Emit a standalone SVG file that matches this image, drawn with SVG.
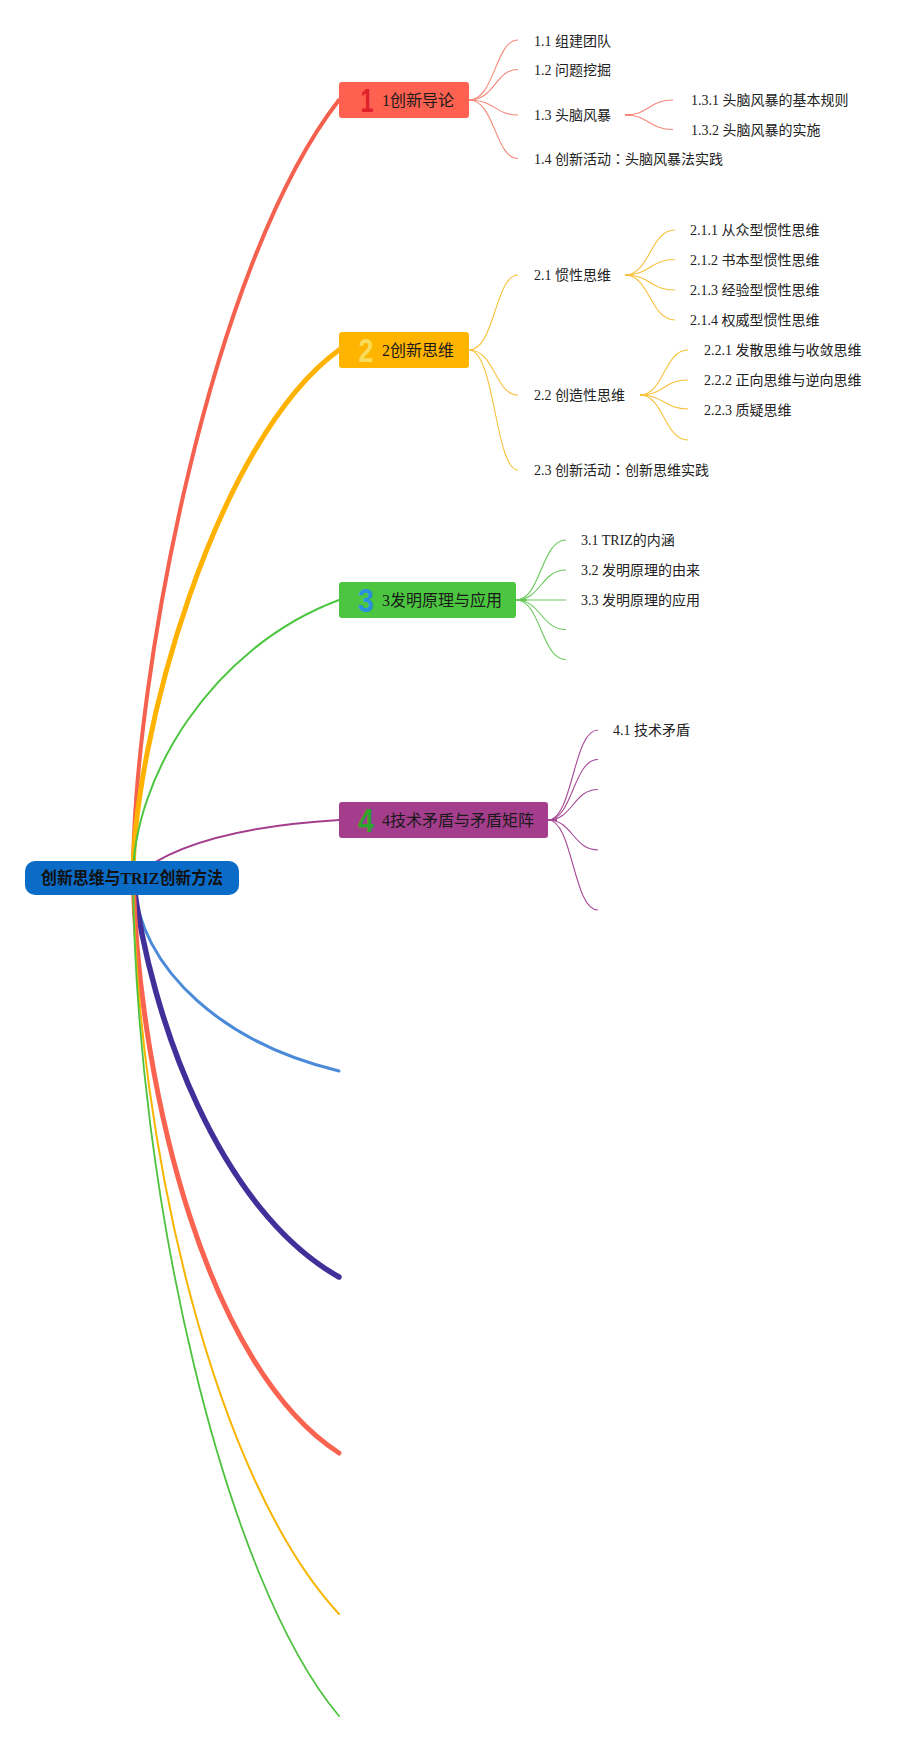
<svg xmlns="http://www.w3.org/2000/svg" width="922" height="1738" viewBox="0 0 922 1738">
<style>
.bg{fill:#ffffff}
.main{fill:none;stroke-linecap:round}
.sub{fill:none;stroke-width:1.1}
.s1{stroke:#f58878}.s2{stroke:#f8c13e}.s3{stroke:#68c95a}.s4{stroke:#a64a96}
.t{font-family:"Liberation Serif","Noto Sans CJK SC",serif;font-size:14px;fill:#222}
.cn{font-family:"Noto Sans CJK TC",sans-serif}
.bt{font-family:"Liberation Serif","Noto Sans CJK SC",serif;font-size:16px;fill:#1a1a1a}
.ic{font-family:"Liberation Sans","DejaVu Sans",sans-serif;font-weight:bold;font-size:33px;text-anchor:middle}
.root{font-family:"Liberation Serif","Noto Sans CJK SC",serif;font-weight:bold;font-size:16.5px;fill:#111;text-anchor:middle}
</style>
<rect class="bg" x="0" y="0" width="922" height="1738"/>
<g id="connectors">
  <path class="main" stroke="#f4614f" stroke-width="4" d="M133,878 C133,680 210,265 339,100"/>
  <path class="main" stroke="#ffb300" stroke-width="5" d="M133,878 C133,740 215,440 339,350"/>
  <path class="main" stroke="#4cc640" stroke-width="2" d="M133,878 C133,780 210,648 339,600"/>
  <path class="main" stroke="#a33d8c" stroke-width="2" d="M133,878 C170,845 240,826 339,820"/>
  <path class="main" stroke="#4a8ad8" stroke-width="3" d="M133,878 C140,975 230,1045 339,1071"/>
  <path class="main" stroke="#40309a" stroke-width="5.5" d="M133,878 C150,1020 220,1210 339,1277"/>
  <path class="main" stroke="#fa6350" stroke-width="5" d="M133,878 C140,1100 210,1370 339,1453"/>
  <path class="main" stroke="#f7b500" stroke-width="2" d="M133,878 C137,1150 215,1480 339,1614"/>
  <path class="main" stroke="#4ec23f" stroke-width="1.8" d="M133,878 C136,1200 225,1580 339,1716"/>

  <g class="sub s1">
    <path d="M469,100 C495,100 495,40 518,40"/>
    <path d="M469,100 C495,100 495,69.5 518,69.5"/>
    <path d="M469,100 C495,100 495,115 518,115"/>
    <path d="M469,100 C495,100 495,158.5 518,158.5"/>
    <path d="M625,115 C649,115 649,100 673,100"/>
    <path d="M625,115 C649,115 649,129.5 673,129.5"/>
    <path stroke-width="2" d="M625,115 H633"/>
  </g>
  <g class="sub s2">
    <path d="M469,350 C495,350 495,275 518,275"/>
    <path d="M469,350 C495,350 495,395 518,395"/>
    <path d="M469,350 C495,350 495,470 518,470"/>
    <path d="M625,275 C650,275 650,230 675,230"/>
    <path d="M625,275 C650,275 650,259.5 675,259.5"/>
    <path d="M625,275 C650,275 650,290 675,290"/>
    <path d="M625,275 C650,275 650,320 675,320"/>
    <path stroke-width="2" d="M625,275 H633"/>
    <path d="M640,395 C664,395 664,350 688,350"/>
    <path d="M640,395 C664,395 664,380 688,380"/>
    <path d="M640,395 C664,395 664,409 688,409"/>
    <path d="M640,395 C664,395 664,440 688,440"/>
    <path stroke-width="2" d="M640,395 H648"/>
  </g>
  <g class="sub s3">
    <path d="M516,600 C541,600 541,540 566,540"/>
    <path d="M516,600 C541,600 541,570 566,570"/>
    <path d="M516,600 H566"/>
    <path d="M516,600 C541,600 541,629.5 566,629.5"/>
    <path d="M516,600 C541,600 541,659.5 566,659.5"/>
    <path stroke-width="2" d="M516,600 H527"/>
  </g>
  <g class="sub s4">
    <path d="M548,820 C573,820 573,730 598,730"/>
    <path d="M548,820 C573,820 573,759.5 598,759.5"/>
    <path d="M548,820 C573,820 573,789.5 598,789.5"/>
    <path d="M548,820 C573,820 573,850 598,850"/>
    <path d="M548,820 C573,820 573,910 598,910"/>
    <path stroke-width="2" d="M548,820 H557"/>
  </g>
</g>

<g id="root">
  <rect x="25" y="861" width="214" height="34" rx="10" fill="#0b6cc7"/>
  <text class="root" x="132" y="884" textLength="182" lengthAdjust="spacingAndGlyphs">创新思维与TRIZ创新方法</text>
</g>

<g id="topic1">
  <rect x="339" y="82" width="130" height="36" rx="3" fill="#ff6150"/>
  <text class="ic" x="367" y="112" fill="#e0202a" textLength="13" lengthAdjust="spacingAndGlyphs">1</text>
  <text class="bt" x="382" y="106">1创新导论</text>
</g>
<g id="t1-1"><text class="t" x="534" y="46">1.1 组建团队</text></g>
<g id="t1-2"><text class="t" x="534" y="75">1.2 问题挖掘</text></g>
<g id="t1-3"><text class="t" x="534" y="120">1.3 头脑风暴</text></g>
<g id="t1-3-1"><text class="t" x="691" y="105">1.3.1 头脑风暴的基本规则</text></g>
<g id="t1-3-2"><text class="t" x="691" y="135">1.3.2 头脑风暴的实施</text></g>
<g id="t1-4"><text class="t" x="534" y="164">1.4 创新活动<tspan class="cn">：</tspan>头脑风暴法实践</text></g>

<g id="topic2">
  <rect x="339" y="332" width="130" height="36" rx="3" fill="#ffb400"/>
  <text class="ic" x="366" y="362" fill="#f8dc5c" textLength="15" lengthAdjust="spacingAndGlyphs">2</text>
  <text class="bt" x="382" y="356">2创新思维</text>
</g>
<g id="t2-1"><text class="t" x="534" y="280">2.1 惯性思维</text></g>
<g id="t2-1-1"><text class="t" x="690" y="234.5">2.1.1 从众型惯性思维</text></g>
<g id="t2-1-2"><text class="t" x="690" y="264.5">2.1.2 书本型惯性思维</text></g>
<g id="t2-1-3"><text class="t" x="690" y="294.5">2.1.3 经验型惯性思维</text></g>
<g id="t2-1-4"><text class="t" x="690" y="324.5">2.1.4 权威型惯性思维</text></g>
<g id="t2-2"><text class="t" x="534" y="400">2.2 创造性思维</text></g>
<g id="t2-2-1"><text class="t" x="704" y="354.5">2.2.1 发散思维与收敛思维</text></g>
<g id="t2-2-2"><text class="t" x="704" y="384.5">2.2.2 正向思维与逆向思维</text></g>
<g id="t2-2-3"><text class="t" x="704" y="414.5">2.2.3 质疑思维</text></g>
<g id="t2-3"><text class="t" x="534" y="475">2.3 创新活动<tspan class="cn">：</tspan>创新思维实践</text></g>

<g id="topic3">
  <rect x="339" y="582" width="177" height="36" rx="3" fill="#4cc640"/>
  <text class="ic" x="366" y="612" fill="#2b8fe0" textLength="16" lengthAdjust="spacingAndGlyphs">3</text>
  <text class="bt" x="382" y="606">3发明原理与应用</text>
</g>
<g id="t3-1"><text class="t" x="581" y="545">3.1 TRIZ的内涵</text></g>
<g id="t3-2"><text class="t" x="581" y="575">3.2 发明原理的由来</text></g>
<g id="t3-3"><text class="t" x="581" y="604.5">3.3 发明原理的应用</text></g>

<g id="topic4">
  <rect x="339" y="802" width="209" height="36" rx="3" fill="#a33d8c"/>
  <text class="ic" x="366" y="832" fill="#2ea42e" textLength="16" lengthAdjust="spacingAndGlyphs">4</text>
  <text class="bt" x="382" y="826">4技术矛盾与矛盾矩阵</text>
</g>
<g id="t4-1"><text class="t" x="613" y="734.5">4.1 技术矛盾</text></g>
</svg>
